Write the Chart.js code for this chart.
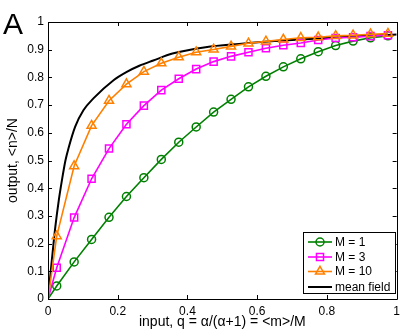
<!DOCTYPE html>
<html>
<head>
<meta charset="utf-8">
<script src="https://cdn.jsdelivr.net/npm/chart.js@4/dist/chart.umd.min.js"></script>
<style>
  html, body { margin: 0; padding: 0; background: #fff; }
</style>
</head>
<body>
<canvas id="grafico" width="405" height="335"></canvas>
<script>
// input q values (markers), origin first
const qMarcas = [0, 0.025, 0.075, 0.125, 0.175, 0.225, 0.275, 0.325, 0.375, 0.425, 0.475,
  0.525, 0.575, 0.625, 0.675, 0.725, 0.775, 0.825, 0.875, 0.925, 0.975];

const saidaM1 = [0, 0.047, 0.134, 0.215, 0.295, 0.370, 0.438, 0.504, 0.566, 0.621, 0.675,
  0.721, 0.766, 0.804, 0.838, 0.867, 0.893, 0.915, 0.931, 0.943, 0.950];
const saidaM3 = [0, 0.113, 0.294, 0.434, 0.543, 0.631, 0.698, 0.754, 0.795, 0.830, 0.857,
  0.876, 0.891, 0.905, 0.916, 0.924, 0.935, 0.942, 0.945, 0.949, 0.952];
const saidaM10 = [0, 0.227, 0.480, 0.626, 0.716, 0.776, 0.821, 0.851, 0.873, 0.891, 0.901,
  0.912, 0.923, 0.930, 0.937, 0.943, 0.945, 0.950, 0.952, 0.956, 0.958];

// mean field curve
const qCampo = [0, 0.011, 0.021, 0.031, 0.040, 0.050, 0.059, 0.078, 0.102, 0.131, 0.188,
  0.226, 0.262, 0.302, 0.357, 0.452, 0.548, 0.650, 0.750, 0.850, 0.950, 1.0];
const saidaCampo = [0, 0.140, 0.260, 0.357, 0.429, 0.500, 0.545, 0.622, 0.682, 0.725, 0.790,
  0.820, 0.842, 0.861, 0.886, 0.909, 0.921, 0.931, 0.939, 0.946, 0.952, 0.955];

const ticksX = [0, 0.2, 0.4, 0.6, 0.8, 1];
const ticksY = [0, 0.1, 0.2, 0.3, 0.4, 0.5, 0.6, 0.7, 0.8, 0.9, 1];

const legendas = ['M = 1', 'M = 3', 'M = 10', 'mean field'];
const cores = ['#008000', '#ff00ff', '#ff8000', '#000000'];
const estilos = ['circle', 'rect', 'triangle', false];
const raios = [4, 5, 5.2, 0];

const fonte = 'Liberation Sans, Arial, Helvetica, sans-serif';
Chart.defaults.font.family = fonte;
Chart.defaults.color = '#000';

function pares(xs, ys) {
  return xs.map((x, i) => ({ x: x, y: ys[i] }));
}

const series = [saidaM1, saidaM3, saidaM10];
const datasets = series.map((ys, i) => ({
  label: legendas[i],
  data: pares(qMarcas, ys),
  borderColor: cores[i],
  backgroundColor: 'rgba(0,0,0,0)',
  borderWidth: 1.6,
  pointStyle: estilos[i],
  pointRadius: c => c.dataIndex === 0 ? 0 : raios[i],
  pointBorderWidth: 1.5,
  pointBorderColor: cores[i],
  pointBackgroundColor: 'rgba(0,0,0,0)',
  order: 2 - i
}));
datasets.push({
  label: legendas[3],
  data: pares(qCampo, saidaCampo),
  borderColor: cores[3],
  borderWidth: 2,
  pointRadius: 0,
  cubicInterpolationMode: 'monotone',
  order: 3
});

// box, inward ticks, legend and panel letter
const extras = {
  id: 'extras',
  afterDraw(chart) {
    const ctx = chart.ctx;
    const a = chart.chartArea;
    const sx = chart.scales.x, sy = chart.scales.y;
    ctx.save();
    ctx.strokeStyle = '#000';
    ctx.lineWidth = 1;
    ctx.beginPath();
    ctx.rect(Math.round(a.left) + 0.5, Math.round(a.top) + 0.5,
      Math.round(a.right - a.left), Math.round(a.bottom - a.top));
    const tl = 4;
    ticksX.forEach(v => {
      const px = Math.round(sx.getPixelForValue(v)) + 0.5;
      ctx.moveTo(px, a.bottom); ctx.lineTo(px, a.bottom - tl);
      ctx.moveTo(px, a.top); ctx.lineTo(px, a.top + tl);
    });
    ticksY.forEach(v => {
      const py = Math.round(sy.getPixelForValue(v)) + 0.5;
      ctx.moveTo(a.left, py); ctx.lineTo(a.left + tl, py);
      ctx.moveTo(a.right, py); ctx.lineTo(a.right - tl, py);
    });
    ctx.stroke();

    // legend
    const lx = 303, ly = 232, lw = 92, lh = 61;
    ctx.fillStyle = '#fff';
    ctx.fillRect(lx, ly, lw, lh);
    ctx.strokeRect(lx + 0.5, ly + 0.5, lw, lh);
    const linhasY = [242, 257, 271.5, 287];
    ctx.font = '12px ' + fonte;
    ctx.textBaseline = 'middle';
    ctx.textAlign = 'left';
    legendas.forEach((txt, i) => {
      const y = linhasY[i];
      ctx.strokeStyle = cores[i];
      ctx.lineWidth = i === 3 ? 2 : 1.6;
      ctx.beginPath();
      ctx.moveTo(308, y); ctx.lineTo(332, y);
      ctx.stroke();
      if (estilos[i]) {
        ctx.lineWidth = 1.5;
        ctx.fillStyle = 'rgba(0,0,0,0)';
        Chart.helpers.drawPoint(ctx, {
          pointStyle: estilos[i], radius: raios[i], borderWidth: 1.5
        }, 320, y);
      }
      ctx.fillStyle = '#000';
      ctx.fillText(txt, 335, y + 0.5);
    });

    ctx.font = '30px ' + fonte;
    ctx.textBaseline = 'alphabetic';
    ctx.fillStyle = '#000';
    ctx.fillText('A', 3, 34);
    ctx.restore();
  }
};

new Chart(document.getElementById('grafico'), {
  type: 'line',
  data: { datasets: datasets },
  options: {
    responsive: false,
    animation: false,
    devicePixelRatio: 1,
    layout: { padding: { top: 22, right: 7, left: 0, bottom: 0 } },
    plugins: { legend: { display: false }, tooltip: { enabled: false } },
    scales: {
      x: {
        type: 'linear', min: 0, max: 1,
        afterFit: s => { s.height = 36; },
        afterBuildTicks: s => { s.ticks = ticksX.map(v => ({ value: v })); },
        grid: { display: false, drawTicks: false },
        border: { display: false },
        ticks: { padding: 5, maxRotation: 0, font: { size: 12 }, callback: v => String(Math.round(v * 10) / 10) },
        title: { display: true, text: 'input, q = α/(α+1) = <m>/M', font: { size: 14 }, padding: { top: 0, bottom: 4 } }
      },
      y: {
        type: 'linear', min: 0, max: 1,
        afterFit: s => { s.width = 48; },
        afterBuildTicks: s => { s.ticks = ticksY.map(v => ({ value: v })); },
        grid: { display: false, drawTicks: false },
        border: { display: false },
        ticks: { padding: 4, font: { size: 12 }, callback: v => String(Math.round(v * 10) / 10) },
        title: { display: true, text: 'output, <n>/N', font: { size: 14 }, padding: { top: 5, bottom: 0 } }
      }
    }
  },
  plugins: [extras]
});
</script>
</body>
</html>
